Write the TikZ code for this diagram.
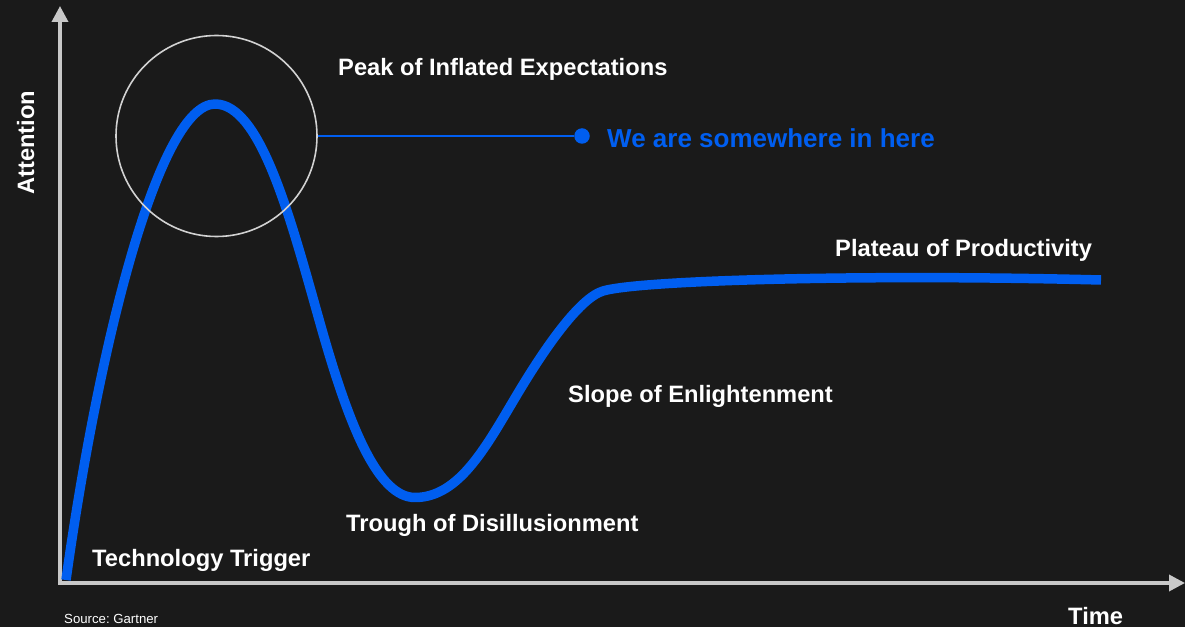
\documentclass[tikz,border=0pt]{standalone}
\usepackage{fontspec}
\setmainfont{Liberation Sans}
\usetikzlibrary{arrows.meta}
\definecolor{bgdark}{HTML}{1A1A1A}
\definecolor{hypeblue}{RGB}{0,94,240}
\definecolor{axisgray}{HTML}{C8C8C8}
\definecolor{ringgray}{HTML}{D2D2D2}
\frenchspacing

\begin{document}
\begin{tikzpicture}[x=1pt,y=1pt,line join=round,
	phase/.style={anchor=base west,inner sep=0pt,text=white,font=\fontsize{23.7}{28}\selectfont\bfseries},
	axisline/.style={draw=axisgray,line width=3.5pt,line cap=rect,-{Triangle[width=16pt,length=16pt]}},
	hypecurve/.style={draw=hypeblue,line width=9.5pt,line cap=butt}]
	\fill[bgdark] (0,0) rectangle (1185,627);
	\useasboundingbox (0,0) rectangle (1185,627);
	% axes
	\coordinate (origin) at (60,44);
	\coordinate (ytop) at (60,621);
	\coordinate (xend) at (1185,44);
	\draw[axisline] (origin) -- (ytop);
	\draw[axisline] (origin) -- (xend);
	% hype curve
	\draw[hypecurve] (66,47) .. controls (100,290) and (160,523) .. (215,523)
		.. controls (262,523) and (291.9,402.8) .. (322,297)
		.. controls (349.4,200.8) and (378,129.5) .. (415,129.5)
		.. controls (460,129.5) and (487.2,182.6) .. (518,234)
		.. controls (543.7,276.9) and (579,328.8) .. (603,336)
		.. controls (640,347) and (870,353) .. (1101,347);
	% marker
	\node[circle,draw=ringgray,line width=1.6pt,minimum size=201pt,inner sep=0pt] (ring) at (216.5,491) {};
	\node[circle,fill=hypeblue,minimum size=15.5pt,inner sep=0pt] (dot) at (582,491) {};
	\draw[hypeblue,line width=2.3pt] (ring.east) -- (dot);
	\node[phase,text=hypeblue,font=\fontsize{26}{30}\selectfont\bfseries] (here) at (607,479) {We are somewhere in here};
	% phases
	\node[phase] (peak) at (338,551) {Peak of Inflated Expectations};
	\node[phase] (plateau) at (835,370) {Plateau of Productivity};
	\node[phase] (slope) at (568,225) {Slope of Enlightenment};
	\node[phase] (trough) at (346,96) {Trough of Disillusionment};
	\node[phase] (trigger) at (92,61) {Technology Trigger};
	% axis labels
	\node[phase,rotate=90] (attention) at (34,432) {Attention};
	\node[phase] (time) at (1068,3) {Time};
	\node[anchor=base west,inner sep=0pt,text=white,font=\fontsize{13.2}{16}\selectfont] (source) at (64,4) {Source: Gartner};
\end{tikzpicture}
\end{document}
